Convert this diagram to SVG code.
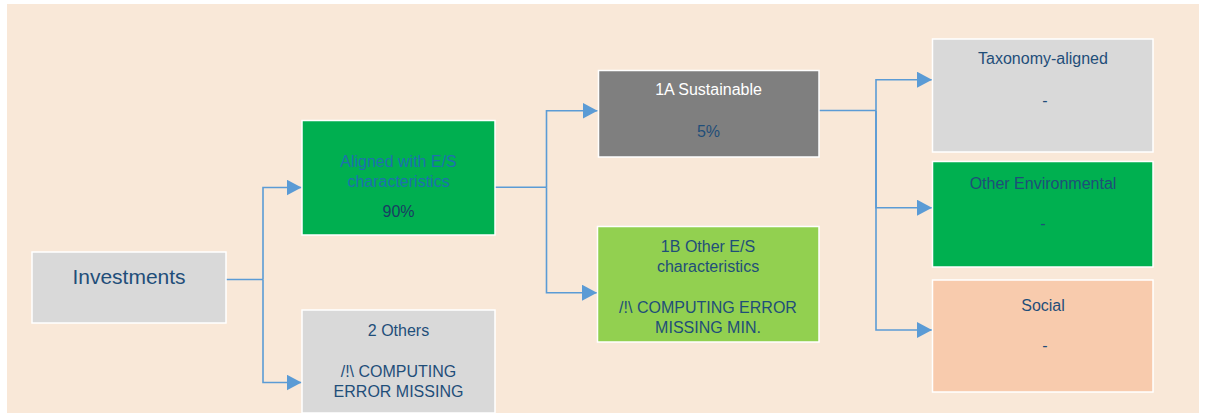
<svg xmlns="http://www.w3.org/2000/svg" width="1205" height="414" viewBox="0 0 1205 414">
<defs>
<style>
.box{stroke:#ffffff;stroke-width:1.5}
.t{font-family:"Liberation Sans",Arial,sans-serif;font-size:16px;text-anchor:middle;fill:#1F4E79}
.w{fill:#ffffff}
.b{fill:#1F70AE}
.d{fill:#1A3D62}
.c{fill:none;stroke:#5B9BD5;stroke-width:1.6}
</style>
<marker id="ah" markerUnits="userSpaceOnUse" markerWidth="16" markerHeight="17" refX="15" refY="8" orient="auto">
<path d="M0,0 L15,8 L0,16 Z" fill="#5B9BD5"/>
</marker>
</defs>
<rect width="1205" height="414" fill="#ffffff"/>
<rect x="7" y="4" width="1192" height="409" fill="#F9E8D8"/>

<g id="connectors">
<path class="c" d="M226,279.5 H263"/>
<path class="c" d="M263,279.5 V187.5 H301.5" marker-end="url(#ah)"/>
<path class="c" d="M263,279.5 V382.5 H301.5" marker-end="url(#ah)"/>
<path class="c" d="M495,187.3 H546.5"/>
<path class="c" d="M546.5,187.3 V110.7 H597.5" marker-end="url(#ah)"/>
<path class="c" d="M546.5,187.3 V292.7 H597" marker-end="url(#ah)"/>
<path class="c" d="M819,110.5 H876"/>
<path class="c" d="M876,110.5 V79.7 H932" marker-end="url(#ah)"/>
<path class="c" d="M876,110.5 V207.7 H932" marker-end="url(#ah)"/>
<path class="c" d="M876,110.5 V330 H932" marker-end="url(#ah)"/>
</g>

<g id="investments">
<rect class="box" x="32" y="252" width="194" height="71" fill="#D9D9D9"/>
<text class="t" x="129" y="284" style="font-size:21px">Investments</text>
</g>

<g id="aligned">
<rect class="box" x="302" y="120.5" width="193" height="114.5" fill="#00AF50"/>
<text class="t b" x="398.5" y="167.3">Aligned with E/S</text>
<text class="t b" x="398.5" y="187.3">characteristics</text>
<text class="t d" x="398.5" y="217.3">90%</text>
</g>

<g id="others">
<rect class="box" x="302" y="310" width="193" height="103" fill="#D9D9D9"/>
<text class="t" x="398.5" y="336">2 Others</text>
<text class="t" x="398.5" y="377.3">/!\ COMPUTING</text>
<text class="t" x="398.5" y="397.3">ERROR MISSING</text>
</g>

<g id="sustainable">
<rect class="box" x="598.5" y="70.5" width="220.5" height="86.5" fill="#7F7F7F"/>
<text class="t w" x="708.5" y="95.3">1A Sustainable</text>
<text class="t" x="708.5" y="137.3">5%</text>
</g>

<g id="other-es">
<rect class="box" x="597.5" y="226.5" width="221.5" height="115.5" fill="#92D050"/>
<text class="t" x="708" y="251.7">1B Other E/S</text>
<text class="t" x="708" y="271.7">characteristics</text>
<text class="t" x="708" y="312.7">/!\ COMPUTING ERROR</text>
<text class="t" x="708" y="332.7">MISSING MIN.</text>
</g>

<g id="taxonomy">
<rect class="box" x="932.5" y="39" width="220.5" height="113" fill="#D9D9D9"/>
<text class="t" x="1043" y="64.3">Taxonomy-aligned</text>
<text class="t" x="1045" y="106">-</text>
</g>

<g id="other-env">
<rect class="box" x="932.5" y="161.5" width="220.5" height="105.5" fill="#00B050"/>
<text class="t" x="1043" y="188.7">Other Environmental</text>
<text class="t" x="1043" y="229">-</text>
</g>

<g id="social">
<rect class="box" x="932.5" y="280" width="220.5" height="112" fill="#F8CBAD"/>
<text class="t" x="1043" y="310.7">Social</text>
<text class="t" x="1045" y="351">-</text>
</g>
</svg>
